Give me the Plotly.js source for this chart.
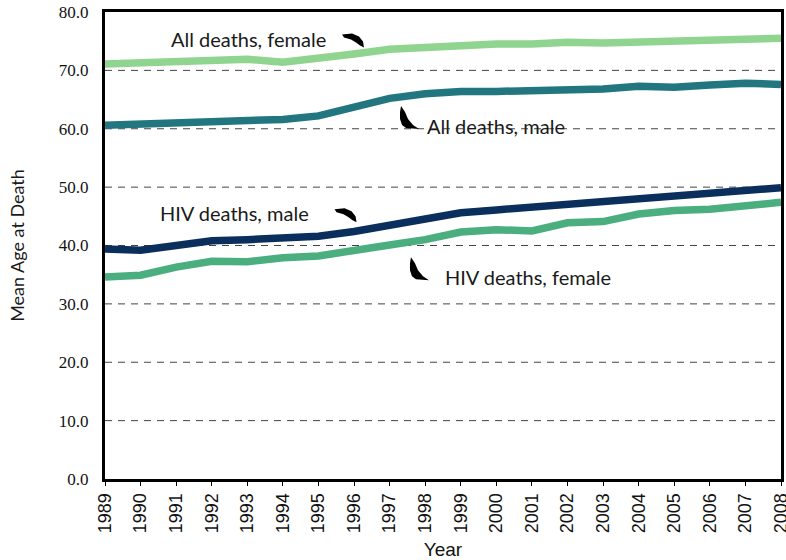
<!DOCTYPE html>
<html>
<head>
<meta charset="utf-8">
<script src="https://cdn.plot.ly/plotly-3.0.1.min.js"></script>
<style>html,body{margin:0;padding:0;background:#fff;}</style>
</head>
<body>
<div id="chart" style="width:786px;height:560px;"></div>
<script>
const years = [1989,1990,1991,1992,1993,1994,1995,1996,1997,1998,1999,2000,2001,2002,2003,2004,2005,2006,2007,2008];
const allFemale = [71.1,71.3,71.3,71.4,71.9,71.4,72.0,72.8,73.6,74.0,74.3,74.5,74.5,74.8,74.7,74.8,75.2,75.2,75.3,75.5];
const allMale   = [60.6,60.8,60.7,60.9,61.3,61.6,62.2,63.8,65.2,66.0,66.4,66.4,66.5,66.8,66.8,67.3,67.1,67.5,67.8,67.6];
const hivMale   = [39.4,39.2,40.0,40.8,41.0,41.4,41.6,42.4,43.4,44.5,45.6,46.1,46.6,47.0,47.4,48.1,48.4,48.8,49.6,49.9];
const hivFemale = [34.6,34.9,36.3,37.3,37.2,37.9,38.2,39.3,40.1,41.0,42.3,42.7,42.5,43.9,44.1,45.4,46.0,46.2,46.8,47.4];
const yTicks = [0,10,20,30,40,50,60,70,80];

const seriesNames = ["All deaths, female","All deaths, male","HIV deaths, male","HIV deaths, female"];
const seriesColors = ["#8fd48f","#21767f","#0b2f5c","#4aae7e"];
const seriesValues = [allFemale, allMale, hivMale, hivFemale];

const traces = seriesValues.map((v,i)=>({
  x: years, y: v, type:'scatter', mode:'lines', name: seriesNames[i],
  line:{color: seriesColors[i], width:7.5}, hoverinfo:'skip'
}));

const gridShapes = [10,20,30,40,50,60,70].map(v=>({
  type:'line', xref:'paper', x0:0, x1:1, yref:'y', y0:v, y1:v,
  line:{color:'#444', width:1, dash:'7px,6px'}, layer:'below'
}));

// curved arrowheads, pixel-sized paths anchored at their tip
const hookDown = "M0,0 L-1,6 L-5,11 L-12,14 L-22,13 L-20,10 L-13,8 L-8,5 L-4,2 Z";
const finUp = "M0,0 L-1,-6 L-1,-13 L1,-19 L5,-22 L18,-23 L12,-19 L7,-13 L4,-6 Z";
function arrow(path, ax, ay){
  return {type:'path', xref:'x', yref:'y', xsizemode:'pixel', ysizemode:'pixel',
    xanchor:ax, yanchor:ay, path:path, fillcolor:'#000', line:{width:0}};
}
const arrowShapes = [
  arrow(hookDown, 1996.28, 73.9),
  arrow(finUp, 1997.32, 63.9),
  arrow(hookDown, 1996.07, 44.0),
  arrow(finUp, 1997.6, 38.0)
];

const annFont = {family:'Lato, "Open Sans", sans-serif', size:20, color:'#1a1a1a'};
const annotations = [
  {text:'All deaths, female', x:1990.8, y:75.3, xanchor:'left', yanchor:'middle'},
  {text:'All deaths, male', x:1998.0, y:60.5, xanchor:'left', yanchor:'middle'},
  {text:'HIV deaths, male', x:1990.5, y:45.5, xanchor:'left', yanchor:'middle'},
  {text:'HIV deaths, female', x:1998.5, y:34.6, xanchor:'left', yanchor:'middle'}
].map(a=>Object.assign({xref:'x', yref:'y', showarrow:false, font:annFont}, a));

const layout = {
  width:786, height:560,
  margin:{l:105, r:5, t:12, b:81},
  paper_bgcolor:'#fff', plot_bgcolor:'#fff',
  showlegend:false,
  xaxis:{
    range:[1989,2008], tickvals: years, ticktext: years.map(String),
    tickangle:-90, showgrid:false, zeroline:false, ticklabeloverflow:'allow',
    showline:true, linecolor:'#000', linewidth:3, mirror:true,
    ticks:'outside', ticklen:4, tickcolor:'#000', tickwidth:1,
    tickfont:{family:'"Liberation Sans Narrow", "Liberation Sans", Arial, sans-serif', size:18, color:'#111'},
    title:{text:'Year', standoff:14, font:{family:'"Liberation Sans Narrow", "Liberation Sans", sans-serif', size:19, color:'#111'}}
  },
  yaxis:{
    range:[0,80], tickvals: yTicks, ticktext: yTicks.map(v=>v.toFixed(1)),
    showgrid:false, zeroline:false,
    showline:true, linecolor:'#000', linewidth:3, mirror:true,
    ticks:'', ticklen:0, ticklabelstandoff:10,
    tickfont:{family:'"Liberation Serif", "DejaVu Serif", serif', size:17, color:'#111'},
    title:{text:'Mean Age at Death', standoff:30, font:{family:'Lato, "Open Sans", sans-serif', size:18, color:'#1a1a1a'}}
  },
  shapes: gridShapes.concat(arrowShapes),
  annotations: annotations
};

Plotly.newPlot('chart', traces, layout, {staticPlot:true, displayModeBar:false});
</script>
</body>
</html>
